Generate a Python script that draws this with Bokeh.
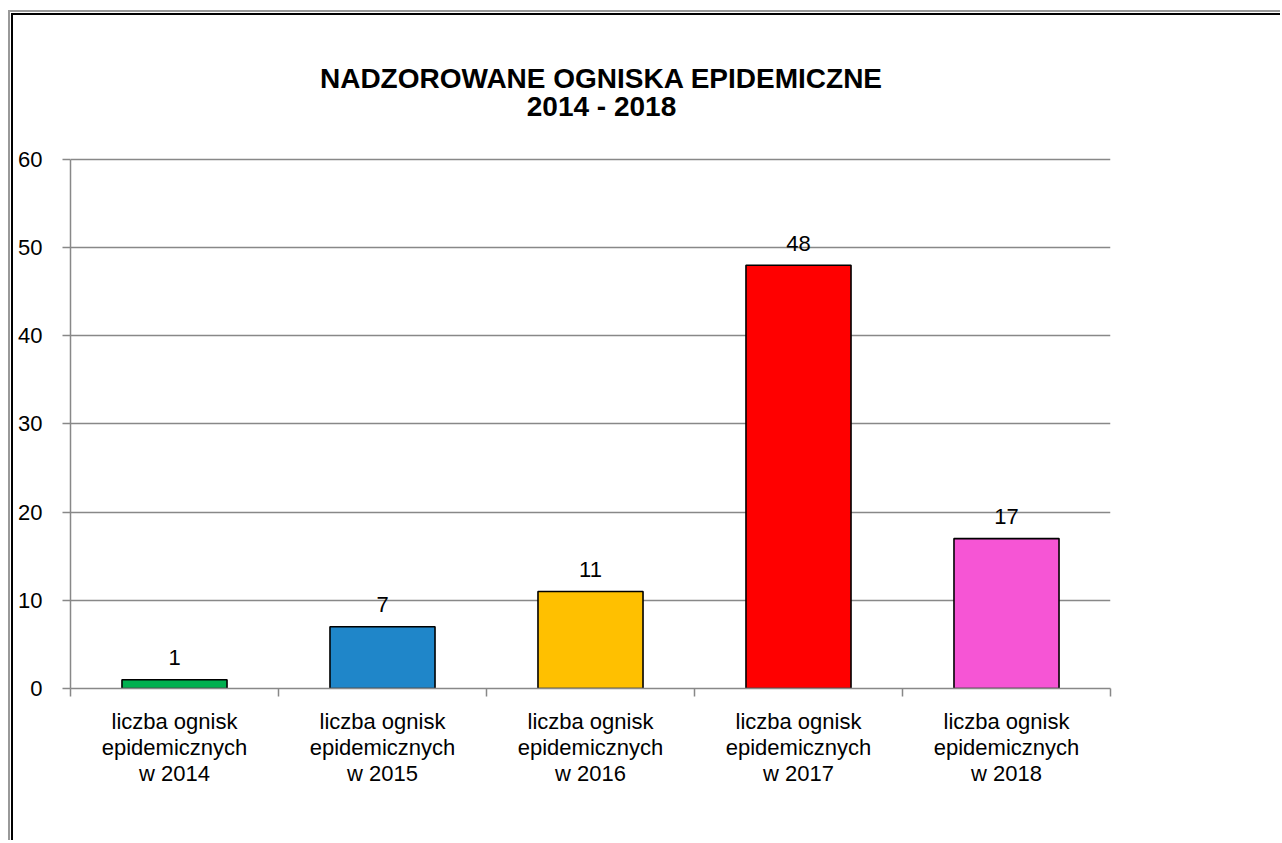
from bokeh.plotting import figure
from bokeh.models import Range1d, FixedTicker, ColumnDataSource
from bokeh.core.properties import value
from bokeh.embed import file_html
from bokeh.resources import INLINE

title_lines = ["NADZOROWANE OGNISKA EPIDEMICZNE", "2014 - 2018"]
categories = [
    "liczba ognisk\nepidemicznych\nw 2014",
    "liczba ognisk\nepidemicznych\nw 2015",
    "liczba ognisk\nepidemicznych\nw 2016",
    "liczba ognisk\nepidemicznych\nw 2017",
    "liczba ognisk\nepidemicznych\nw 2018",
]
values = [1, 7, 11, 48, 17]
colors = ["#00b050", "#1f86c9", "#ffc000", "#ff0000", "#f655d5"]
y_ticks = [0, 10, 20, 30, 40, 50, 60]

FONT = "Liberation Sans"

n = len(categories)
xs = [i + 0.5 for i in range(n)]

# frame spans from the top of the canvas; the axis is bounded to 0..60
Y_TOP = 78.03

p = figure(
    width=1280, height=840,
    x_range=Range1d(0, n), y_range=Range1d(0, Y_TOP),
    output_backend="svg", toolbar_location=None,
    min_border_left=70, min_border_right=170,
    min_border_top=0, min_border_bottom=152,
)
p.border_fill_alpha = 0
p.background_fill_alpha = 0
p.outline_line_color = None
p.styles = {"box-shadow": (
    "inset 8px 10px 0 0 #ffffff, inset 10px 12px 0 0 #999999, "
    "inset 11px 13px 0 0 #ffffff, inset 13px 15px 0 0 #000000")}

src = ColumnDataSource(dict(x=xs, top=values, color=colors, lbl=[str(v) for v in values]))
p.vbar(x="x", top="top", width=0.505, bottom=0, fill_color="color",
       line_color="black", line_width=1.6, source=src)
p.text(x="x", y="top", text="lbl", source=src, y_offset=-22,
       text_align="center", text_baseline="middle",
       text_font_size="22px", text_color="black",
       text_font=value(FONT))

# title (inside the frame's upper, axis-free area)
tsrc = ColumnDataSource(dict(x=[2.553, 2.553], y=[69.19, 66.0], t=title_lines))
p.text(x="x", y="y", text="t", source=tsrc, text_align="center",
       text_baseline="middle", text_font=value(FONT), text_font_size="28px",
       text_font_style="bold", text_color="black")

# x axis
xa = p.xaxis[0]
xa.ticker = FixedTicker(ticks=xs, minor_ticks=list(range(n + 1)))
xa.major_label_overrides = {x: c for x, c in zip(xs, categories)}
xa.major_tick_line_color = None
xa.major_tick_out = 0
xa.major_tick_in = 0
xa.minor_tick_line_color = "#888888"
xa.minor_tick_line_width = 1.5
xa.minor_tick_out = 8
xa.minor_tick_in = 0
xa.axis_line_color = "#888888"
xa.axis_line_width = 1.5
xa.major_label_standoff = 12
xa.major_label_text_font = FONT
xa.major_label_text_font_size = "22px"
xa.major_label_text_line_height = 1.05
xa.major_label_text_color = "black"

# y axis
ya = p.yaxis[0]
ya.bounds = (0, 60)
ya.ticker = FixedTicker(ticks=y_ticks)
ya.major_tick_out = 8
ya.major_tick_in = 0
ya.minor_tick_line_color = None
ya.major_tick_line_color = "#888888"
ya.major_tick_line_width = 1.5
ya.axis_line_color = "#888888"
ya.axis_line_width = 1.5
ya.major_label_standoff = 20
ya.major_label_text_font = FONT
ya.major_label_text_font_size = "22px"
ya.major_label_text_color = "black"

p.xgrid.grid_line_color = None
p.ygrid.ticker = FixedTicker(ticks=y_ticks)
p.ygrid.grid_line_color = "#888888"
p.ygrid.grid_line_width = 1.5

open("out.html", "w").write(file_html(p, INLINE))
